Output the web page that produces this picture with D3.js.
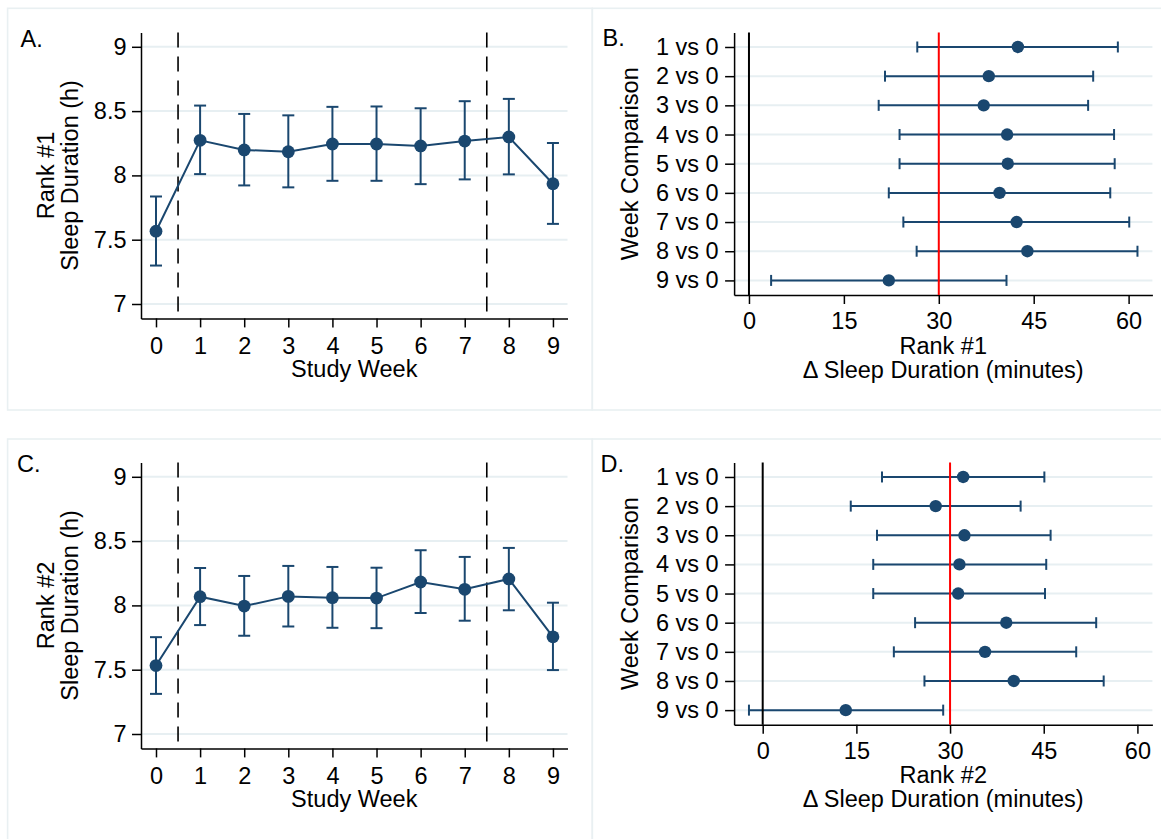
<!DOCTYPE html>
<html>
<head>
<meta charset="utf-8">
<script src="https://cdn.jsdelivr.net/npm/d3@7"></script>
<style>
  html, body { margin: 0; padding: 0; background: #ffffff; }
  svg { display: block; }
  text { font-family: "Liberation Sans", Arial, Helvetica, sans-serif; fill: #000; }
</style>
</head>
<body>
<svg id="chart" width="1161" height="839"></svg>
<script>
// ---- Weekly mean sleep duration (hours) with 95% CI ----
const weeks = [0, 1, 2, 3, 4, 5, 6, 7, 8, 9];
const rank1Mean = [7.566, 8.273, 8.198, 8.184, 8.244, 8.244, 8.229, 8.267, 8.299, 7.935];
const rank1Lo   = [7.299, 8.010, 7.922, 7.907, 7.958, 7.958, 7.932, 7.969, 8.008, 7.623];
const rank1Hi   = [7.836, 8.543, 8.478, 8.467, 8.533, 8.536, 8.522, 8.577, 8.595, 8.252];
const rank2Mean = [7.532, 8.068, 7.995, 8.070, 8.060, 8.057, 8.182, 8.125, 8.206, 7.756];
const rank2Lo   = [7.312, 7.847, 7.764, 7.836, 7.826, 7.823, 7.941, 7.881, 7.962, 7.497];
const rank2Hi   = [7.753, 8.291, 8.229, 8.307, 8.299, 8.293, 8.429, 8.377, 8.447, 8.021];
const hourTicks = [7, 7.5, 8, 8.5, 9];
const phaseBreaks = [0.5, 7.5];

// ---- Change vs week 0 (minutes) with 95% CI ----
const comparisons = ["1 vs 0", "2 vs 0", "3 vs 0", "4 vs 0", "5 vs 0", "6 vs 0", "7 vs 0", "8 vs 0", "9 vs 0"];
const rank1Diff   = [42.5, 37.9, 37.1, 40.8, 40.9, 39.6, 42.3, 44.0, 22.1];
const rank1DiffLo = [26.6, 21.5, 20.5, 23.8, 23.8, 22.1, 24.4, 26.5, 3.5];
const rank1DiffHi = [58.3, 54.4, 53.6, 57.7, 57.8, 57.1, 60.1, 61.4, 40.7];
const rank2Diff   = [32.1, 27.7, 32.3, 31.5, 31.3, 39.0, 35.6, 40.2, 13.3];
const rank2DiffLo = [19.1, 14.1, 18.3, 17.7, 17.7, 24.4, 21.0, 25.9, -2.2];
const rank2DiffHi = [45.1, 41.3, 46.1, 45.4, 45.2, 53.4, 50.2, 54.6, 28.9];
const minuteTicks = [0, 15, 30, 45, 60];
const zeroLine = 0;
const targetLine = 30;

const NAVY = "#1a476f";
const GRID = "#e7eff2";
const FRAME = "#e9f0f2";
const FS = 23.5;

const svg = d3.select("#chart");

// panel frames
const frames = svg.append("g")
  .attr("fill", "none").attr("stroke", FRAME).attr("stroke-width", 1.6);
frames.append("rect").attr("x", 7.6).attr("y", 8.3).attr("width", 584.7).attr("height", 401.7);
frames.append("rect").attr("x", 592.3).attr("y", 8.3).attr("width", 600).attr("height", 401.7);
frames.append("rect").attr("x", 7.6).attr("y", 439).attr("width", 584.7).attr("height", 420);
frames.append("rect").attr("x", 592.3).attr("y", 439).attr("width", 600).attr("height", 420);

function styleAxis(g) {
  g.selectAll("path.domain").attr("stroke", "#000").attr("stroke-width", 1.5);
  g.selectAll(".tick line").attr("stroke", "#000").attr("stroke-width", 1.5);
  g.selectAll(".tick text").attr("font-size", FS).attr("fill", "#000")
    .attr("font-family", '"Liberation Sans", Arial, Helvetica, sans-serif');
}

// ---- Line chart with error bars (weekly means) ----
function drawTrend(cfg) {
  const { mean, lo, hi, letter, letterPos, titleLines, top, bottom } = cfg;
  const x = d3.scaleLinear().domain([-0.34, 9.33]).range([141, 567.5]);
  const y = d3.scaleLinear().domain([6.888, 9.112]).range([bottom, top]);
  const g = svg.append("g");

  // gridlines
  g.append("g").selectAll("line").data(hourTicks).join("line")
    .attr("x1", x.range()[0]).attr("x2", x.range()[1])
    .attr("y1", d => y(d)).attr("y2", d => y(d))
    .attr("stroke", GRID).attr("stroke-width", 2);

  // axes
  const yAxis = g.append("g").attr("transform", `translate(${x.range()[0]},0)`)
    .call(d3.axisLeft(y).tickValues(hourTicks).tickFormat(d3.format("~g"))
      .tickSize(9).tickSizeOuter(0).tickPadding(5.5));
  styleAxis(yAxis);
  const xAxis = g.append("g").attr("transform", `translate(0,${bottom})`)
    .call(d3.axisBottom(x).tickValues(weeks).tickFormat(d3.format("d"))
      .tickSize(9).tickSizeOuter(0).tickPadding(9.5));
  styleAxis(xAxis);

  // phase boundaries
  g.append("g").selectAll("line").data(phaseBreaks).join("line")
    .attr("x1", d => x(d)).attr("x2", d => x(d))
    .attr("y1", top).attr("y2", bottom)
    .attr("stroke", "#000").attr("stroke-width", 1.6)
    .attr("stroke-dasharray", "15,9");

  const rows = weeks.map((w, i) => ({ w, m: mean[i], lo: lo[i], hi: hi[i] }));

  // error bars
  const eb = g.append("g").attr("stroke", NAVY).attr("stroke-width", 2).attr("fill", "none");
  eb.selectAll("line.v").data(rows).join("line").attr("class", "v")
    .attr("x1", d => x(d.w)).attr("x2", d => x(d.w))
    .attr("y1", d => y(d.lo)).attr("y2", d => y(d.hi));
  eb.selectAll("line.cl").data(rows).join("line").attr("class", "cl")
    .attr("x1", d => x(d.w) - 6).attr("x2", d => x(d.w) + 6)
    .attr("y1", d => y(d.lo)).attr("y2", d => y(d.lo));
  eb.selectAll("line.ch").data(rows).join("line").attr("class", "ch")
    .attr("x1", d => x(d.w) - 6).attr("x2", d => x(d.w) + 6)
    .attr("y1", d => y(d.hi)).attr("y2", d => y(d.hi));

  // connecting line
  g.append("path").datum(rows)
    .attr("fill", "none").attr("stroke", NAVY).attr("stroke-width", 2)
    .attr("d", d3.line().x(d => x(d.w)).y(d => y(d.m)));

  // markers
  g.append("g").selectAll("circle").data(rows).join("circle")
    .attr("cx", d => x(d.w)).attr("cy", d => y(d.m)).attr("r", 6.4)
    .attr("fill", NAVY);

  // labels
  g.append("text").attr("x", letterPos[0]).attr("y", letterPos[1])
    .attr("font-size", FS).text(letter);
  const cy = (top + bottom) / 2;
  g.append("text").attr("transform", `translate(53.5,${cy}) rotate(-90)`)
    .attr("text-anchor", "middle").attr("font-size", FS).text(titleLines[0]);
  g.append("text").attr("transform", `translate(78,${cy}) rotate(-90)`)
    .attr("text-anchor", "middle").attr("font-size", FS).text(titleLines[1]);
  g.append("text").attr("x", (x.range()[0] + x.range()[1]) / 2).attr("y", bottom + 59)
    .attr("text-anchor", "middle").attr("font-size", FS).text("Study Week");
}

// ---- Coefficient plot (difference from week 0) ----
function drawForest(cfg) {
  const { est, lo, hi, xDomain, letter, letterPos, rankLabel, top, bottom } = cfg;
  const x = d3.scaleLinear().domain(xDomain).range([734.1, 1152.4]);
  const y = d3.scalePoint().domain(comparisons).range([top, bottom]).padding(0.5);
  const g = svg.append("g");

  g.append("g").selectAll("line").data(comparisons).join("line")
    .attr("x1", x.range()[0]).attr("x2", x.range()[1])
    .attr("y1", d => y(d)).attr("y2", d => y(d))
    .attr("stroke", GRID).attr("stroke-width", 2);

  const yAxis = g.append("g").attr("transform", `translate(${x.range()[0]},0)`)
    .call(d3.axisLeft(y).tickSize(9).tickSizeOuter(0).tickPadding(6.5));
  styleAxis(yAxis);
  const xAxis = g.append("g").attr("transform", `translate(0,${bottom})`)
    .call(d3.axisBottom(x).tickValues(minuteTicks).tickFormat(d3.format("d"))
      .tickSize(9).tickSizeOuter(0).tickPadding(8.5));
  styleAxis(xAxis);

  const rows = comparisons.map((c, i) => ({ c, m: est[i], lo: lo[i], hi: hi[i] }));

  const eb = g.append("g").attr("stroke", NAVY).attr("stroke-width", 2).attr("fill", "none");
  eb.selectAll("line.h").data(rows).join("line").attr("class", "h")
    .attr("x1", d => x(d.lo)).attr("x2", d => x(d.hi))
    .attr("y1", d => y(d.c)).attr("y2", d => y(d.c));
  eb.selectAll("line.cl").data(rows).join("line").attr("class", "cl")
    .attr("x1", d => x(d.lo)).attr("x2", d => x(d.lo))
    .attr("y1", d => y(d.c) - 5.5).attr("y2", d => y(d.c) + 5.5);
  eb.selectAll("line.ch").data(rows).join("line").attr("class", "ch")
    .attr("x1", d => x(d.hi)).attr("x2", d => x(d.hi))
    .attr("y1", d => y(d.c) - 5.5).attr("y2", d => y(d.c) + 5.5);

  // reference lines: no change, and 30-minute target
  g.append("line").attr("x1", x(zeroLine)).attr("x2", x(zeroLine))
    .attr("y1", top).attr("y2", bottom).attr("stroke", "#000").attr("stroke-width", 2);
  g.append("line").attr("x1", x(targetLine)).attr("x2", x(targetLine))
    .attr("y1", top).attr("y2", bottom).attr("stroke", "#ff0000").attr("stroke-width", 2);

  g.append("g").selectAll("circle").data(rows).join("circle")
    .attr("cx", d => x(d.m)).attr("cy", d => y(d.c)).attr("r", 6.2)
    .attr("fill", NAVY);

  g.append("text").attr("x", letterPos[0]).attr("y", letterPos[1])
    .attr("font-size", FS).text(letter);
  const cy = (top + bottom) / 2;
  g.append("text").attr("transform", `translate(637.5,${cy}) rotate(-90)`)
    .attr("text-anchor", "middle").attr("font-size", FS).text("Week Comparison");
  const cx = (x.range()[0] + x.range()[1]) / 2;
  g.append("text").attr("x", cx).attr("y", bottom + 58.5)
    .attr("text-anchor", "middle").attr("font-size", FS).text(rankLabel);
  g.append("text").attr("x", cx).attr("y", bottom + 82.5)
    .attr("text-anchor", "middle").attr("font-size", FS).text("\u0394 Sleep Duration (minutes)");
}

drawTrend({ mean: rank1Mean, lo: rank1Lo, hi: rank1Hi, letter: "A.", letterPos: [20.5, 46.7],
  titleLines: ["Rank #1", "Sleep Duration (h)"], top: 32.4, bottom: 318.4 });
drawForest({ est: rank1Diff, lo: rank1DiffLo, hi: rank1DiffHi, xDomain: [-2.35, 63.76],
  letter: "B.", letterPos: [602.5, 46], rankLabel: "Rank #1", top: 32.4, bottom: 295 });
drawTrend({ mean: rank2Mean, lo: rank2Lo, hi: rank2Hi, letter: "C.", letterPos: [17, 471.8],
  titleLines: ["Rank #2", "Sleep Duration (h)"], top: 462.4, bottom: 748.4 });
drawForest({ est: rank2Diff, lo: rank2DiffLo, hi: rank2DiffHi, xDomain: [-4.58, 62.4],
  letter: "D.", letterPos: [600.5, 472.3], rankLabel: "Rank #2", top: 462.4, bottom: 724.7 });
</script>
</body>
</html>
